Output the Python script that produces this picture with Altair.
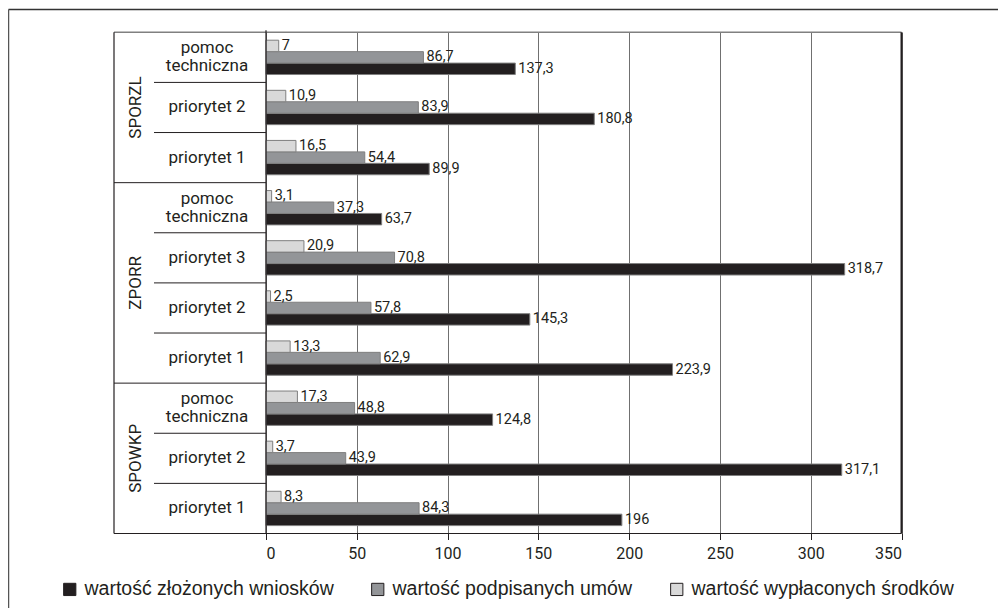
import altair as alt
import pandas as pd

groups = ["SPORZL", "ZPORR", "SPOWKP"]
group_sizes = [3, 4, 3]
subcategories = [
    "pomoc techniczna", "priorytet 2", "priorytet 1",
    "pomoc techniczna", "priorytet 3", "priorytet 2", "priorytet 1",
    "pomoc techniczna", "priorytet 2", "priorytet 1",
]
zlozonych = [137.3, 180.8, 89.9, 63.7, 318.7, 145.3, 223.9, 124.8, 317.1, 196]
podpisanych = [86.7, 83.9, 54.4, 37.3, 70.8, 57.8, 62.9, 48.8, 43.9, 84.3]
wyplaconych = [7, 10.9, 16.5, 3.1, 20.9, 2.5, 13.3, 17.3, 3.7, 8.3]
series_names = [
    "wartość złożonych wniosków",
    "wartość podpisanych umów",
    "wartość wypłaconych środków",
]
series_colors = ["#231f20", "#939598", "#d9d9d9"]
x_ticks = [0, 50, 100, 150, 200, 250, 300, 350]

# ---- build tables ----
keys, grp_of, idx_in_grp, pos_list = [], [], [], []
p = 0
for g, n in zip(groups, group_sizes):
    for j in range(n):
        keys.append(f"{g}-{p}")
        grp_of.append(g)
        idx_in_grp.append(j)
        pos_list.append(p)
        p += 1
n_rows = p

long_rows = []
for i, k in enumerate(keys):
    for s, vals in zip(series_names, [zlozonych, podpisanych, wyplaconych]):
        long_rows.append({"key": k, "series": s, "value": vals[i]})
long_df = pd.DataFrame(long_rows)

sub_df = pd.DataFrame({
    "key": keys,
    "label": [s.replace(" techniczna", "\ntechniczna") for s in subcategories],
})
sub_df["multi"] = sub_df["label"].str.contains("\n")

starts = []
acc = 0
for n in group_sizes:
    starts.append(acc)
    acc += n
grp_df = pd.DataFrame({"group": groups, "start": starts, "n": group_sizes})
grp_df["center"] = grp_df["start"] + grp_df["n"] / 2

sub_sep_df = pd.DataFrame({"pos": [pp for pp, j in zip(pos_list, idx_in_grp) if j > 0]})
grp_sep_df = pd.DataFrame({"pos": [s for s in starts if s > 0]})
one = pd.DataFrame({"a": [0]})

W, H = 635.5, 501.2
FN = "Roboto"
DARK = "#231f20"

y_band = alt.Y("key:N", scale=alt.Scale(domain=keys, paddingInner=0, paddingOuter=0), axis=None)
y_off = alt.YOffset(
    "series:N",
    scale=alt.Scale(domain=series_names[::-1], paddingInner=0, paddingOuter=0.69),
)
x_scale = alt.Scale(domain=[0, 350], nice=False, zero=True)

bars = alt.Chart(long_df).mark_bar(stroke="#7f7f7f", strokeWidth=1).encode(
    x=alt.X(
        "value:Q",
        scale=x_scale,
        axis=alt.Axis(
            values=x_ticks, title=None, domain=False, grid=True,
            gridColor="#707070", gridWidth=1, tickColor=DARK, tickSize=6,
            labelFont=FN, labelFontSize=16, labelColor=DARK, labelPadding=6,
        ),
    ),
    y=y_band,
    yOffset=y_off,
    color=alt.Color(
        "series:N",
        scale=alt.Scale(domain=series_names, range=series_colors),
        legend=alt.Legend(
            title=None, orient="none", legendX=-206, legendY=547,
            direction="horizontal", symbolType="square", symbolSize=150,
            symbolStrokeColor=DARK, symbolStrokeWidth=1,
            labelFont="Liberation Sans", labelFontSize=19.5, labelColor=DARK,
            labelLimit=500, columnPadding=34, labelOffset=5,
        ),
    ),
)

value_labels = alt.Chart(long_df).mark_text(
    align="left", baseline="middle", dx=3, font=FN, fontSize=14.5, color=DARK
).transform_calculate(
    lbl="replace(toString(datum.value), '.', ',')"
).encode(
    x=alt.X("value:Q", scale=x_scale),
    y=y_band,
    yOffset=y_off,
    text="lbl:N",
)

sub_single = alt.Chart(sub_df).transform_filter("!datum.multi").mark_text(
    align="center", baseline="middle", font=FN, fontSize=17, color=DARK,
).encode(x=alt.value(-59), y=y_band, text="label:N")

sub_multi = alt.Chart(sub_df).transform_filter("datum.multi").mark_text(
    align="center", baseline="middle", lineBreak="\n", lineHeight=18,
    dy=-9, font=FN, fontSize=17, color=DARK,
).encode(x=alt.value(-59), y=y_band, text="label:N")

band_part = alt.layer(bars, value_labels, sub_single, sub_multi)

yq_scale = alt.Scale(domain=[0, n_rows], reverse=True, nice=False, zero=False)

grp_labels = alt.Chart(grp_df).mark_text(
    angle=270, align="center", baseline="middle", font=FN, fontSize=17, color=DARK
).encode(
    x=alt.value(-130),
    y=alt.Y("center:Q", scale=yq_scale, axis=None),
    text="group:N",
)

sub_seps = alt.Chart(sub_sep_df).mark_rule(color=DARK, strokeWidth=1).encode(
    x=alt.value(-112), x2=alt.value(0),
    y=alt.Y("pos:Q", scale=yq_scale, axis=None),
)
grp_seps = alt.Chart(grp_sep_df).mark_rule(color=DARK, strokeWidth=1).encode(
    x=alt.value(-152), x2=alt.value(0),
    y=alt.Y("pos:Q", scale=yq_scale, axis=None),
)

frame = [
    # plot box
    alt.Chart(one).mark_rule(color="#808080", strokeWidth=1.5).encode(
        x=alt.value(-152), x2=alt.value(W), y=alt.value(0)),
    alt.Chart(one).mark_rule(color=DARK, strokeWidth=1.2).encode(
        x=alt.value(-152), x2=alt.value(W), y=alt.value(H)),
    alt.Chart(one).mark_rule(color=DARK, strokeWidth=1.2).encode(
        x=alt.value(-152), y=alt.value(0), y2=alt.value(H)),
    alt.Chart(one).mark_rule(color=DARK, strokeWidth=1.2).encode(
        x=alt.value(0), y=alt.value(-2), y2=alt.value(H)),
    alt.Chart(one).mark_rule(color=DARK, strokeWidth=2).encode(
        x=alt.value(W), y=alt.value(0), y2=alt.value(H)),
    # outer page frame
    alt.Chart(one).mark_rule(color="#333333", strokeWidth=1.5).encode(
        x=alt.value(-257.5), x2=alt.value(W + 120), y=alt.value(-22.8)),
    alt.Chart(one).mark_rule(color="#555555", strokeWidth=1.5).encode(
        x=alt.value(-257.5), y=alt.value(-22.8), y2=alt.value(H + 120)),
]

left_part = alt.layer(grp_labels, sub_seps, grp_seps, *frame)

chart = alt.layer(band_part, left_part).resolve_scale(y="independent").properties(
    width=W,
    height=H,
    padding={"left": 258, "top": 24.3, "right": 96, "bottom": 74.5},
    autosize=alt.AutoSizeParams(type="none"),
    background="white",
).configure_view(stroke=None)

chart.save("out.html", embed_options={"renderer": "svg", "actions": False})
